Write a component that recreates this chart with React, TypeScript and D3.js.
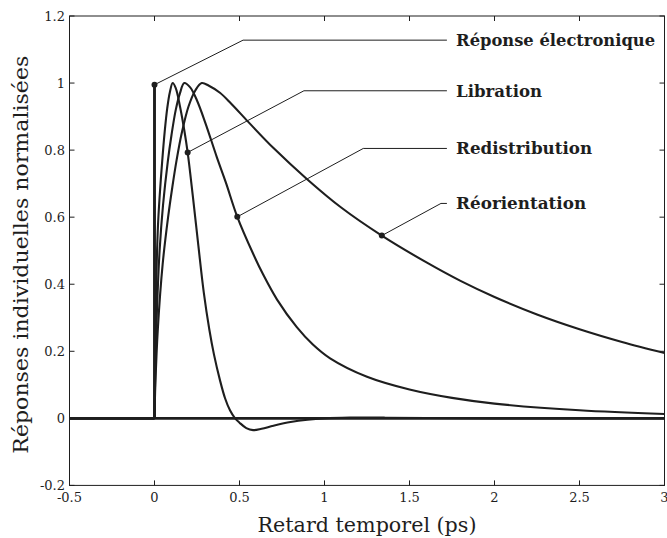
import React from "react";
import * as d3 from "d3";

// ---- Data ----
const xTicks = [-0.5, 0, 0.5, 1, 1.5, 2, 2.5, 3];
const xTickLabels = ["-0.5", "0", "0.5", "1", "1.5", "2", "2.5", "3"];
const yTicks = [-0.2, 0, 0.2, 0.4, 0.6, 0.8, 1, 1.2];
const yTickLabels = ["-0.2", "0", "0.2", "0.4", "0.6", "0.8", "1", "1.2"];

const electronique: [number, number][] = [
  [-0.5, 0], [0, 0], [0, 0.995], [0, 0], [3, 0],
];

const libration: [number, number][] = [
  [-0.5, 0], [0, 0], [0.004, 0.2], [0.01, 0.4], [0.02, 0.57], [0.03, 0.66],
  [0.045, 0.765], [0.06, 0.855], [0.075, 0.925], [0.09, 0.972], [0.107, 1.0],
  [0.125, 0.985], [0.15, 0.93], [0.175, 0.86], [0.195, 0.793], [0.225, 0.665],
  [0.258, 0.515], [0.29, 0.375], [0.3225, 0.265], [0.35, 0.19], [0.385, 0.114],
  [0.415, 0.06], [0.444, 0.024], [0.474, 0], [0.5, -0.013], [0.54, -0.029],
  [0.58, -0.035], [0.63, -0.031], [0.7, -0.022], [0.8, -0.011], [0.9, -0.004],
  [1.0, 0], [1.15, 0.002], [1.35, 0.002], [1.6, 0.001], [2, 0], [3, 0],
];

const redistribution: [number, number][] = [
  [-0.5, 0], [0, 0], [0.005, 0.15], [0.015, 0.33], [0.03, 0.5], [0.05, 0.635],
  [0.078, 0.765], [0.1, 0.845], [0.125, 0.92], [0.15, 0.97], [0.175, 1.0],
  [0.21, 0.987], [0.25, 0.948], [0.3, 0.88], [0.366, 0.78], [0.42, 0.703],
  [0.487, 0.601], [0.581, 0.49], [0.64, 0.428], [0.72, 0.355], [0.837, 0.272],
  [0.93, 0.221], [1.033, 0.179], [1.25, 0.124], [1.5, 0.086], [1.75, 0.061],
  [2, 0.044], [2.5, 0.024], [3, 0.013],
];

const reorientation: [number, number][] = [
  [-0.5, 0], [0, 0], [0.005, 0.1], [0.02, 0.27], [0.048, 0.46], [0.08, 0.6],
  [0.105, 0.69], [0.13, 0.77], [0.16, 0.85], [0.2, 0.93], [0.24, 0.978],
  [0.278, 1.0], [0.32, 0.992], [0.385, 0.971], [0.45, 0.939], [0.55, 0.885],
  [0.7, 0.806], [0.896, 0.714], [1.1, 0.628], [1.337, 0.545], [1.6, 0.465],
  [1.8, 0.41], [2, 0.362], [2.25, 0.31], [2.5, 0.266], [2.75, 0.228], [3, 0.195],
];

const labelNames = ["Réponse électronique", "Libration", "Redistribution", "Réorientation"];
const dotT = [0, 0.195, 0.487, 1.337];
const dotV = [0.995, 0.793, 0.601, 0.545];
const kneeT = [0.521, 0.879, 1.228, 1.685];
const kneeV = [1.128, 0.977, 0.805, 0.641];
const leaderEndT = 1.72;
const labelT = 1.774;
const labelWidths = [199, 86, 136, 130];

const xTitle = "Retard temporel (ps)";
const yTitle = "Réponses individuelles normalisées";

// ---- Layout ----
const W = 667;
const H = 538;
const L = 69.5;
const R = 664.5;
const T = 16;
const B = 485.4;
const INK = "#1e1e1e";

export default function App() {
  const x = d3.scaleLinear().domain([-0.5, 3]).range([L, R]);
  const y = d3.scaleLinear().domain([-0.2, 1.2]).range([B, T]);

  const smooth = d3
    .line<[number, number]>()
    .x((d) => x(d[0]))
    .y((d) => y(d[1]))
    .curve(d3.curveCatmullRom.alpha(0.5));
  const straight = d3
    .line<[number, number]>()
    .x((d) => x(d[0]))
    .y((d) => y(d[1]));

  // flat part (t <= 0) drawn straight, response (t >= 0) drawn smooth
  const curvePath = (data: [number, number][]) =>
    (straight(data.filter((d) => d[0] <= 0)) || "") +
    (smooth(data.filter((d) => d[0] >= 0)) || "");

  const tickLen = 5;
  const serif = "'DejaVu Serif', serif";

  return (
    <svg
      width={W}
      height={H}
      style={{ position: "absolute", left: 0, top: 0, background: "#fff" }}
    >
      <rect x={0} y={0} width={W} height={H} fill="#fff" />

      {/* curves */}
      <g fill="none" stroke={INK} strokeLinejoin="round">
        <path d={curvePath(reorientation)} strokeWidth={2.1} />
        <path d={curvePath(redistribution)} strokeWidth={2.1} />
        <path d={curvePath(libration)} strokeWidth={2.1} />
        <path d={straight(electronique) || ""} strokeWidth={2.9} />
      </g>

      {/* leader lines, dots and labels */}
      {labelNames.map((name, i) => {
        const pts: [number, number][] = [
          [dotT[i], dotV[i]],
          [kneeT[i], kneeV[i]],
          [leaderEndT, kneeV[i]],
        ];
        return (
          <g key={name}>
            <path d={straight(pts) || ""} fill="none" stroke={INK} strokeWidth={1} />
            <circle cx={x(dotT[i])} cy={y(dotV[i])} r={3} fill={INK} />
            <text
              x={x(labelT)}
              y={y(kneeV[i]) + 6}
              fontFamily={serif}
              fontWeight="bold"
              fontSize={16.5}
              textLength={labelWidths[i]}
              lengthAdjust="spacingAndGlyphs"
              fill={INK}
            >
              {name}
            </text>
          </g>
        );
      })}

      {/* frame */}
      <rect x={L} y={T} width={R - L} height={B - T} fill="none" stroke={INK} strokeWidth={1} />

      {/* x ticks */}
      {xTicks.map((t, i) => (
        <g key={"xt" + i}>
          <line x1={x(t)} x2={x(t)} y1={B} y2={B - tickLen} stroke={INK} strokeWidth={1} />
          <line x1={x(t)} x2={x(t)} y1={T} y2={T + tickLen} stroke={INK} strokeWidth={1} />
          <text
            x={x(t)}
            y={501.5}
            textAnchor="middle"
            fontFamily={serif}
            fontSize={13}
            fill={INK}
          >
            {xTickLabels[i]}
          </text>
        </g>
      ))}

      {/* y ticks */}
      {yTicks.map((v, i) => (
        <g key={"yt" + i}>
          <line x1={L} x2={L + tickLen} y1={y(v)} y2={y(v)} stroke={INK} strokeWidth={1} />
          <line x1={R} x2={R - tickLen} y1={y(v)} y2={y(v)} stroke={INK} strokeWidth={1} />
          <text
            x={L - 4.5}
            y={y(v) + 4.6}
            textAnchor="end"
            fontFamily={serif}
            fontSize={13}
            fill={INK}
          >
            {yTickLabels[i]}
          </text>
        </g>
      ))}

      {/* axis titles */}
      <text
        x={(L + R) / 2}
        y={532}
        textAnchor="middle"
        fontFamily={serif}
        fontSize={20}
        textLength={219}
        lengthAdjust="spacingAndGlyphs"
        fill={INK}
      >
        {xTitle}
      </text>
      <text
        transform={`translate(28, ${(T + B) / 2 + 4}) rotate(-90)`}
        textAnchor="middle"
        fontFamily={serif}
        fontSize={20}
        textLength={398}
        lengthAdjust="spacingAndGlyphs"
        fill={INK}
      >
        {yTitle}
      </text>
    </svg>
  );
}
